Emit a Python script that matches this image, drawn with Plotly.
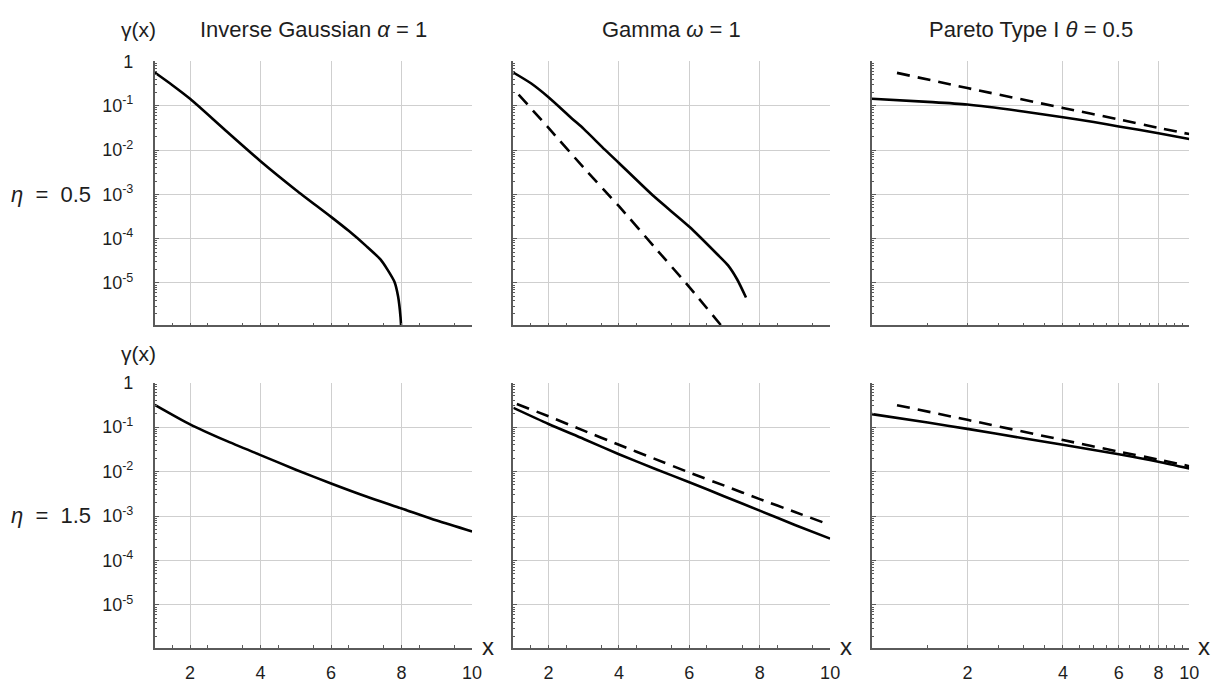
import plotly.graph_objects as go

# The page body keeps its default 8px margin, so the figure is placed 8px in
# from the top-left corner of the window; size and positions allow for that.
OFF = 8
W, H = 1229 - OFF, 683 - OFF

# ---------------- data ----------------
# Row 1: eta = 0.5
ig1_x = [1.0, 1.5, 2.0, 3.0, 4.0, 5.0, 6.0, 6.5, 7.0, 7.4, 7.6, 7.8, 7.9, 7.97, 8.0]
ig1_y = [0.56, 0.29, 0.143, 0.028, 5.6e-3, 1.26e-3, 3.1e-4, 1.5e-4, 6.8e-5, 3.4e-5,
         2.0e-5, 1.05e-5, 5.0e-6, 1.7e-6, 6.3e-7]

ga1_x = [1.0, 1.5, 2.0, 2.67, 3.0, 3.6, 4.0, 5.0, 6.0, 6.8, 7.1, 7.36, 7.61]
ga1_y = [0.56, 0.32, 0.155, 0.051, 0.030, 0.0102, 5.1e-3, 8.9e-4, 1.86e-4, 4.4e-5,
         2.5e-5, 1.2e-5, 4.7e-6]
ga1d_x = [1.15, 2.0, 3.0, 4.0, 5.0, 6.0, 7.0]
ga1d_y = [0.178, 0.0316, 3.98e-3, 5.4e-4, 6.6e-5, 8.1e-6, 8.9e-7]

pa1_x = [1.0, 1.5, 2.0, 3.0, 4.0, 5.0, 6.0, 8.0, 10.0]
pa1_y = [0.143, 0.122, 0.106, 0.074, 0.055, 0.043, 0.034, 0.024, 0.0178]
pa1d_x = [1.2, 2.0, 4.0, 6.0, 8.0, 10.0]
pa1d_y = [0.55, 0.25, 0.089, 0.049, 0.0316, 0.0229]

# Row 2: eta = 1.5
ig2_x = [1, 2, 3, 4, 5, 6, 7, 8, 9, 10]
ig2_y = [0.316, 0.115, 0.050, 0.0234, 0.011, 5.4e-3, 2.75e-3, 1.48e-3, 7.9e-4, 4.5e-4]

ga2_x = [1, 2, 3, 4, 5, 6, 7, 8, 9, 10]
ga2_y = [0.27, 0.117, 0.054, 0.0245, 0.0117, 5.75e-3, 2.75e-3, 1.32e-3, 6.3e-4, 3.1e-4]
ga2d_x = [1.1, 2, 3, 4, 5, 6, 7, 8, 9, 10]
ga2d_y = [0.33, 0.174, 0.083, 0.040, 0.0195, 9.5e-3, 4.8e-3, 2.4e-3, 1.23e-3, 6.3e-4]

pa2_x = [1.0, 1.5, 2.0, 3.0, 4.0, 6.0, 8.0, 10.0]
pa2_y = [0.195, 0.126, 0.091, 0.056, 0.040, 0.0245, 0.0166, 0.0117]
pa2d_x = [1.2, 2.0, 4.0, 6.0, 8.0, 10.0]
pa2d_y = [0.31, 0.145, 0.051, 0.028, 0.0186, 0.0132]

x_ticks = [2, 4, 6, 8, 10]
y_ticks = [1, 1e-1, 1e-2, 1e-3, 1e-4, 1e-5]
y_ticktext = ["1", "10<sup>-1</sup>", "10<sup>-2</sup>", "10<sup>-3</sup>",
              "10<sup>-4</sup>", "10<sup>-5</sup>"]
col_titles = ["Inverse Gaussian <i>α</i> = 1", "Gamma <i>ω</i> = 1",
              "Pareto Type I <i>θ</i> = 0.5"]
row_labels = ["<i>η</i>\u00a0 =\u00a0 0.5", "<i>η</i>\u00a0 =\u00a0 1.5"]

# ---------------- layout helpers ----------------
FONT = "Liberation Sans, Arial, sans-serif"
AX = "#5a5a5a"
GRID = "#cfcfcf"
TXT = "#1e1e1e"

def px(x):
    return (x - OFF) / W

def py(y):
    return 1 - (y - OFF) / H

col_dom = [(156, 476), (517.5, 837), (879, 1199)]
row_dom = [(52, 320), (378, 647)]

minor_lin = [v / 2 for v in range(3, 20, 2)]
minor_log_x = [1.5, 2.5, 3, 3.5, 4.5, 5, 5.5, 6.5, 7, 7.5, 8.5, 9, 9.5]
minor_log_y = [m * 10.0 ** e for e in range(-6, 0) for m in range(2, 10)]

fig = go.Figure()

panels = [
    [(ig1_x, ig1_y, None, None), (ga1_x, ga1_y, ga1d_x, ga1d_y), (pa1_x, pa1_y, pa1d_x, pa1d_y)],
    [(ig2_x, ig2_y, None, None), (ga2_x, ga2_y, ga2d_x, ga2d_y), (pa2_x, pa2_y, pa2d_x, pa2d_y)],
]

layout = dict(
    width=W, height=H, autosize=False,
    margin=dict(l=0, r=0, t=0, b=0),
    paper_bgcolor="white", plot_bgcolor="white",
    showlegend=False,
    font=dict(family=FONT, color=TXT, size=18),
)

idx = 0
for r in range(2):
    for c in range(3):
        idx += 1
        sfx = "" if idx == 1 else str(idx)
        xs, ys, xd, yd = panels[r][c]
        fig.add_trace(go.Scatter(x=xs, y=ys, mode="lines",
                                 line=dict(color="black", width=2.6, shape="spline",
                                           smoothing=0.7),
                                 xaxis="x" + sfx, yaxis="y" + sfx,
                                 hoverinfo="skip"))
        if xd is not None:
            fig.add_trace(go.Scatter(x=xd, y=yd, mode="lines",
                                     line=dict(color="black", width=2.6, dash="13px,8px",
                                               shape="spline", smoothing=0.5),
                                     xaxis="x" + sfx, yaxis="y" + sfx,
                                     hoverinfo="skip"))
        is_log_x = (c == 2)
        xa = dict(
            domain=[px(col_dom[c][0]), px(col_dom[c][1])],
            anchor="y" + sfx,
            type="log" if is_log_x else "linear",
            range=[0, 1.0001] if is_log_x else [1, 10.002],
            tickmode="array", tickvals=x_ticks,
            ticktext=[str(v) for v in x_ticks],
            showticklabels=(r == 1),
            ticks="inside", ticklen=3, tickwidth=1, tickcolor=AX,
            ticklabelstandoff=8,
            showgrid=True, gridcolor=GRID, gridwidth=1,
            showline=True, linecolor=AX, linewidth=1.6,
            zeroline=False,
            tickfont=dict(size=18, family=FONT, color=TXT),
            minor=dict(tickmode="array",
                       tickvals=minor_log_x if is_log_x else minor_lin,
                       ticks="inside", ticklen=3, tickcolor=AX, showgrid=False),
            fixedrange=True,
        )
        ya = dict(
            domain=[py(row_dom[r][1]), py(row_dom[r][0])],
            anchor="x" + sfx,
            type="log",
            range=[-5.956, 0.0005],
            tickmode="array", tickvals=y_ticks, ticktext=y_ticktext,
            showticklabels=(c == 0),
            ticks="inside", ticklen=4, tickwidth=1, tickcolor=AX,
            ticklabelstandoff=16,
            showgrid=True, gridcolor=GRID, gridwidth=1,
            showline=True, linecolor=AX, linewidth=1.6,
            zeroline=False,
            tickfont=dict(size=18, family=FONT, color=TXT),
            minor=dict(tickmode="array", tickvals=minor_log_y,
                       ticks="inside", ticklen=2, tickcolor=AX, showgrid=False),
            fixedrange=True,
        )
        layout["xaxis" + sfx] = xa
        layout["yaxis" + sfx] = ya

annotations = []
# column titles
for c in range(3):
    cx = (col_dom[c][0] + col_dom[c][1]) / 2
    annotations.append(dict(text=col_titles[c], x=px(cx), y=py(20), xref="paper",
                            yref="paper", showarrow=False, xanchor="center",
                            yanchor="middle", font=dict(size=22, family=FONT, color=TXT)))
# gamma(x) labels
for yy in (20, 349):
    annotations.append(dict(text="γ(x)", x=px(140), y=py(yy), xref="paper", yref="paper",
                            showarrow=False, xanchor="center", yanchor="middle",
                            font=dict(size=21, family=FONT, color=TXT)))
# row labels
for r, yy in enumerate((187, 513)):
    annotations.append(dict(text=row_labels[r], x=px(51), y=py(yy), xref="paper",
                            yref="paper", showarrow=False, xanchor="center",
                            yanchor="middle", font=dict(size=22, family=FONT, color=TXT)))
# x labels on bottom row
for xx in (492, 853, 1214):
    annotations.append(dict(text="x", x=px(xx), y=py(646), xref="paper", yref="paper",
                            showarrow=False, xanchor="center", yanchor="middle",
                            font=dict(size=24, family=FONT, color=TXT)))

layout["annotations"] = annotations
fig.update_layout(**layout)
fig.write_html("out.html")
